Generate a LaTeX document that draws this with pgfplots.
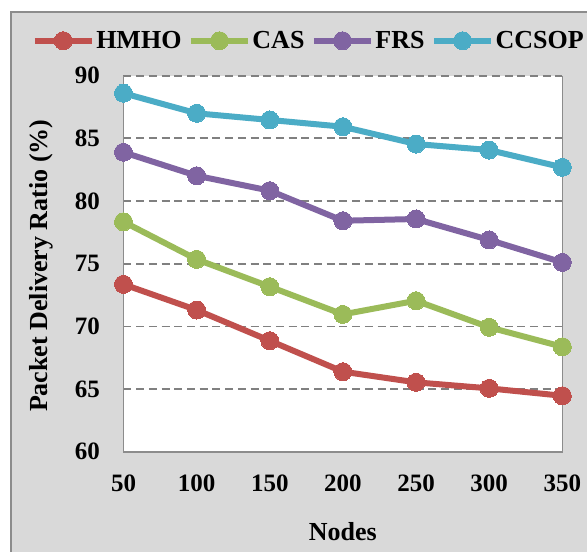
\documentclass[border=0pt]{standalone}
\usepackage{fontspec}
\setmainfont{Liberation Serif}
\usepackage{pgfplots}
\pgfplotsset{compat=1.18}

\definecolor{chartbg}{HTML}{D9D9D9}
\definecolor{framegray}{HTML}{8C8C8C}
\definecolor{gridgray}{HTML}{808080}
\definecolor{cHMHO}{HTML}{C0504D}
\definecolor{cCAS}{HTML}{9BBB59}
\definecolor{cFRS}{HTML}{8064A2}
\definecolor{cCCSOP}{HTML}{4BACC6}

\begin{document}
\begin{tikzpicture}[x=1pt,y=1pt]
  \path[use as bounding box, clip] (0,0) rectangle (587,552);
  % chart area
  \fill[chartbg] (11,-10) rectangle (600,540);
  \draw[framegray, line width=2pt] (11,-10) -- (11,540) -- (600,540);
  \begin{axis}[
    at={(123.5pt,100.2pt)}, anchor=south west,
    scale only axis, width=438.8pt, height=376.1pt,
    xmin=50, xmax=350, ymin=60, ymax=90,
    xtick={50,100,...,350}, ytick={60,65,...,90},
    axis background/.style={fill=white},
    axis line style={draw=none},
    major tick length=0pt,
    ymajorgrids,
    grid style={gridgray, line width=1.8pt, dash pattern=on 8pt off 4.7pt},
    /pgf/number format/assume math mode=true,
    tick label style={font=\bfseries\fontsize{25}{25}\selectfont, inner sep=0pt},
    yticklabel style={anchor=east, xshift=-23.5pt},
    xticklabel style={anchor=north, yshift=-22.5pt},
    xlabel={Nodes},
    ylabel={Packet Delivery Ratio (\%)},
    label style={font=\bfseries\fontsize{26}{26}\selectfont},
    xlabel style={at={(rel axis cs:0.5,0)}, anchor=center, yshift=-80pt},
    ylabel style={at={(rel axis cs:0,0.5)}, anchor=center, yshift=82.5pt, xshift=-2pt},
    clip=false,
    every axis plot/.append style={line width=6pt, mark=*, mark size=9pt,
      mark options={solid, line width=0pt}},
    legend columns=-1,
    legend style={at={(axis description cs:0.4216,1.093)}, anchor=center,
      draw=none, fill=none, inner sep=0pt,
      font=\bfseries\fontsize{26}{26}\selectfont,
      nodes={inner sep=1.5pt},
      /tikz/every even column/.append style={column sep=5pt}},
    legend image code/.code={%
      \draw[mark repeat=2,mark phase=2,#1] plot coordinates {(0pt,0pt) (28.5pt,0pt) (57pt,0pt)};},
  ]
    \addplot[cHMHO] coordinates {(50,73.36) (100,71.31) (150,68.86) (200,66.39) (250,65.54) (300,65.06) (350,64.47)};
    \addlegendentry{HMHO}
    \addplot[cCAS] coordinates {(50,78.35) (100,75.35) (150,73.17) (200,70.96) (250,72.05) (300,69.93) (350,68.38)};
    \addlegendentry{CAS}
    \addplot[cFRS] coordinates {(50,83.89) (100,82.02) (150,80.83) (200,78.43) (250,78.57) (300,76.90) (350,75.11)};
    \addlegendentry{FRS}
    \addplot[cCCSOP] coordinates {(50,88.60) (100,87.00) (150,86.47) (200,85.93) (250,84.55) (300,84.07) (350,82.69)};
    \addlegendentry{CCSOP}
    % plot-area frame: left, bottom and right edges
    \draw[framegray, line width=1.5pt] (rel axis cs:0,1) -- (rel axis cs:0,0) -- (rel axis cs:1,0) -- (rel axis cs:1,1);
  \end{axis}
\end{tikzpicture}
\end{document}
